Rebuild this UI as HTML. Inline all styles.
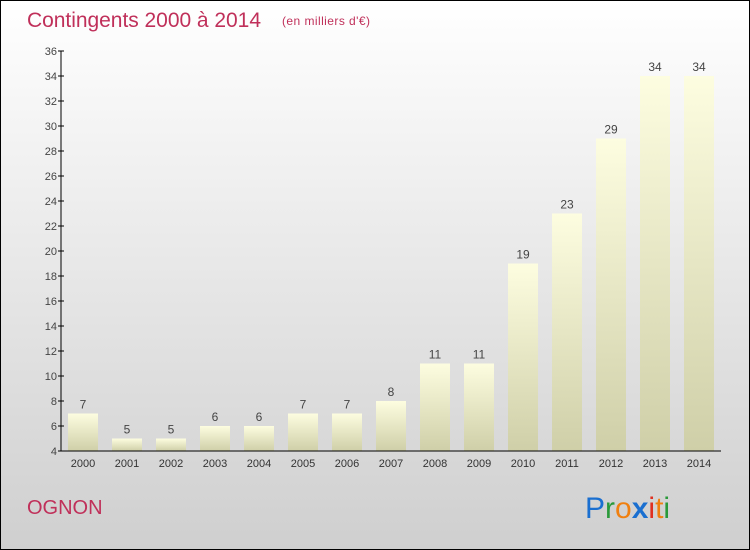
<!DOCTYPE html>
<html><head><meta charset="utf-8"><style>
body{margin:0}
#c{width:748px;height:548px;border:1px solid #000;background:linear-gradient(#fff,#cfcfcf);position:relative;font-family:"Liberation Sans",sans-serif;overflow:hidden}
</style></head><body>
<div id="c">
<svg width="748" height="548" font-family="Liberation Sans, sans-serif">
<defs><linearGradient id="bg" x1="0" y1="0" x2="0" y2="1"><stop offset="0" stop-color="#fdfde0"/><stop offset="1" stop-color="#cfcfa8"/></linearGradient></defs>
<text x="26" y="26" font-size="21" fill="#c0305a" textLength="234">Contingents 2000 à 2014</text>
<text x="281" y="24" font-size="12" fill="#c0305a" textLength="88">(en milliers d'€)</text>
<g id="g"></g>
<text x="26" y="513" font-size="20" fill="#c0305a">OGNON</text>
<g font-size="30" font-family="Liberation Sans, sans-serif">
<text x="584" y="517"><tspan fill="#1a6fd0">P</tspan><tspan fill="#2a9a3a">r</tspan><tspan fill="#f08010">o</tspan><tspan fill="#1a6fd0" font-weight="bold">x</tspan><tspan fill="#e03020">i</tspan><tspan fill="#f08010">t</tspan><tspan fill="#2a9a3a">i</tspan></text></g>
</svg></div>
<script>
const years=["2000","2001","2002","2003","2004","2005","2006","2007","2008","2009","2010","2011","2012","2013","2014"];
const values=[7,5,5,6,6,7,7,8,11,11,19,23,29,34,34];
const yTicks=[4,6,8,10,12,14,16,18,20,22,24,26,28,30,32,34,36];
const ns="http://www.w3.org/2000/svg",g=document.getElementById('g');
const y=v=>450-(v-4)*12.5, x=i=>82+44*i;
function mk(t,a,p){const e=document.createElementNS(ns,t);for(const k in a)e.setAttribute(k,a[k]);(p||g).appendChild(e);return e;}
values.forEach((v,i)=>{
 const r=mk('rect',{x:x(i)-15,y:y(v),width:30,height:450-y(v),fill:'url(#bg)'});
 
 
 const t=mk('text',{x:x(i),y:y(v)-5,'text-anchor':'middle','font-size':12,fill:'#444'});t.textContent=v;
 
 
 const l=mk('text',{x:x(i),y:466,'text-anchor':'middle','font-size':11,fill:'#333'});l.textContent=years[i];
 
 
});
yTicks.forEach(v=>{
 mk('line',{x1:57,x2:63,y1:y(v),y2:y(v),stroke:'#000'});
 const t=mk('text',{x:56,y:y(v)+4,'text-anchor':'end','font-size':11,fill:'#444'});t.textContent=v;
 
 
});
const ya=mk('line',{x1:60,x2:60,y1:50,y2:450,stroke:'#000'});


const xa=mk('line',{x1:60,x2:720,y1:450,y2:450,stroke:'#000'});


</script>
</body></html>
